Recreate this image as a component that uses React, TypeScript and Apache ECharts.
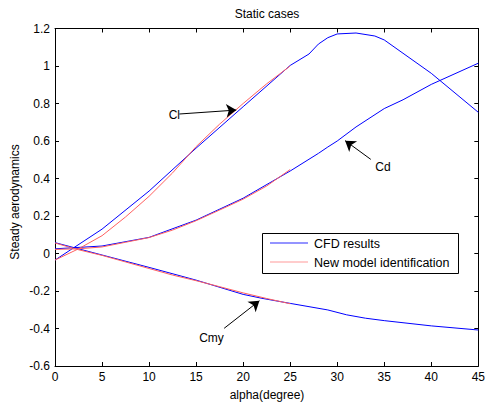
import React, { useEffect, useRef } from "react";
import * as echarts from "echarts";

const xTicks = [0, 5, 10, 15, 20, 25, 30, 35, 40, 45];

const clAlphaCFD = [0, 5, 10, 15, 20, 25, 27, 28, 29, 30, 32, 34, 35, 40, 45];
const clCFD = [-0.035, 0.13, 0.333, 0.562, 0.783, 1.003, 1.064, 1.117, 1.151, 1.171, 1.176, 1.16, 1.139, 0.961, 0.753];

const cdAlphaCFD = [0, 5, 10, 15, 20, 25, 28, 29, 30, 32, 35, 37, 40, 45];
const cdCFD = [0.025, 0.04, 0.086, 0.178, 0.295, 0.44, 0.534, 0.568, 0.6, 0.675, 0.773, 0.82, 0.902, 1.015];

const cmyAlphaCFD = [0, 5, 10, 15, 20, 22, 25, 29, 31, 33, 35, 40, 45];
const cmyCFD = [0.058, -0.008, -0.074, -0.142, -0.218, -0.239, -0.266, -0.301, -0.327, -0.345, -0.358, -0.386, -0.408];

const alphaModel = [0, 2.5, 5, 7.5, 10, 12.5, 15, 17.5, 20, 22.5, 25];
const clModel = [-0.035, 0.025, 0.095, 0.195, 0.305, 0.43, 0.57, 0.69, 0.8, 0.905, 1.0];
const cdModel = [0.022, 0.025, 0.035, 0.06, 0.085, 0.125, 0.175, 0.232, 0.29, 0.36, 0.448];
const cmyModel = [0.056, 0.02, -0.01, -0.045, -0.08, -0.115, -0.145, -0.177, -0.21, -0.24, -0.268];

const legendNames = ["CFD results", "New model identification"];

const arrows = [
  { from: [13.22, 0.744], to: [19.27, 0.765] },
  { from: [33.57, 0.502], to: [30.84, 0.602] },
  { from: [17.98, -0.399], to: [21.73, -0.252] },
];

const FONT = "Liberation Sans, Arial, sans-serif";
const BLUE = "#0000ff";
const RED = "#ff6060";
const LEGEND_BLUE = "#2a2aff";
const LEGEND_RED = "#ff9a9a";

const zip = (xs: number[], ys: number[]) => xs.map((x, i) => [x, ys[i]]);

export default function App() {
  const ref = useRef<HTMLDivElement>(null);
  useEffect(() => {
    if (!ref.current) return;
    const chart = echarts.init(ref.current, undefined, { renderer: "svg" });
    const axisCommon = {
      axisLine: { show: true, onZero: false, lineStyle: { color: "#000", width: 1 } },
      axisTick: { show: true, inside: true, length: 4, lineStyle: { color: "#000" } },
      splitLine: { show: false },
    };
    const lineSeries = (name: string, data: number[][], color: string, extra: any = {}) => ({
      type: "line",
      name,
      data,
      symbol: "none",
      showSymbol: false,
      lineStyle: { color, width: 1 },
      itemStyle: { color },
      silent: true,
      z: 2,
      ...extra,
    });
    const legendColors = [LEGEND_BLUE, LEGEND_RED];
    const legendGraphics: any[] = [
      {
        type: "rect",
        shape: { x: 262.5, y: 233.5, width: 196, height: 40 },
        style: { fill: "#fff", stroke: "#000", lineWidth: 1 },
        z: 100,
      },
    ];
    legendNames.forEach((name, i) => {
      const cy = 243 + i * 19;
      legendGraphics.push({
        type: "line",
        shape: { x1: 270, y1: cy, x2: 308, y2: cy },
        style: { stroke: legendColors[i], lineWidth: 1.2 },
        z: 101,
      });
      legendGraphics.push({
        type: "text",
        x: 314,
        y: cy + 0.5,
        style: { text: name, fill: "#000", font: `12.5px ${FONT}`, align: "left", verticalAlign: "middle" },
        z: 101,
      });
    });
    chart.setOption({
      animation: false,
      grid: { left: 55, right: 5, top: 28.5, bottom: 39, containLabel: false },
      xAxis: [
        {
          type: "value",
          min: 0,
          max: 45,
          interval: 5,
          position: "bottom",
          ...axisCommon,
          axisLabel: { color: "#000", fontSize: 12, fontFamily: FONT, margin: 5 },
        },
        {
          type: "value",
          min: 0,
          max: 45,
          interval: 5,
          position: "top",
          ...axisCommon,
          axisLabel: { show: false },
        },
      ],
      yAxis: [
        {
          type: "value",
          min: -0.6,
          max: 1.2,
          interval: 0.2,
          position: "left",
          ...axisCommon,
          axisLabel: {
            color: "#000",
            fontSize: 12,
            fontFamily: FONT,
            margin: 5,
            formatter: (v: number) => String(Math.round(v * 10) / 10),
          },
        },
        {
          type: "value",
          min: -0.6,
          max: 1.2,
          interval: 0.2,
          position: "right",
          ...axisCommon,
          axisLabel: { show: false },
        },
      ],
      graphic: [
        {
          type: "text",
          x: 267,
          y: 14,
          style: { text: "Static cases", fill: "#000", font: `12px ${FONT}`, align: "center", verticalAlign: "middle" },
        },
        {
          type: "text",
          x: 267,
          y: 395,
          style: { text: "alpha(degree)", fill: "#000", font: `12px ${FONT}`, align: "center", verticalAlign: "middle" },
        },
        {
          type: "text",
          x: 15,
          y: 202,
          rotation: Math.PI / 2,
          style: { text: "Steady aerodynamics", fill: "#000", font: `12px ${FONT}`, align: "center", verticalAlign: "middle" },
        },
        {
          type: "text",
          x: 180,
          y: 115,
          style: { text: "Cl", fill: "#000", font: `12px ${FONT}`, align: "right", verticalAlign: "middle" },
        },
        {
          type: "text",
          x: 383,
          y: 167,
          style: { text: "Cd", fill: "#000", font: `12px ${FONT}`, align: "center", verticalAlign: "middle" },
        },
        {
          type: "text",
          x: 211.5,
          y: 338,
          style: { text: "Cmy", fill: "#000", font: `12px ${FONT}`, align: "center", verticalAlign: "middle" },
        },
        ...legendGraphics,
      ],
      series: [
        lineSeries("CFD results", zip(clAlphaCFD, clCFD), BLUE, {
          markLine: {
            silent: true,
            symbol: ["none", "arrow"],
            symbolSize: 10,
            label: { show: false },
            lineStyle: { color: "#000", width: 1, type: "solid" },
            emphasis: { disabled: true },
            data: arrows.map((a) => [{ coord: a.from }, { coord: a.to }]),
          },
        }),
        lineSeries("CFD results", zip(cdAlphaCFD, cdCFD), BLUE),
        lineSeries("CFD results", zip(cmyAlphaCFD, cmyCFD), BLUE),
        lineSeries("New model identification", zip(alphaModel, clModel), RED),
        lineSeries("New model identification", zip(alphaModel, cdModel), RED),
        lineSeries("New model identification", zip(alphaModel, cmyModel), RED),
      ],
    });
    return () => chart.dispose();
  }, []);
  return <div ref={ref} style={{ width: 488, height: 405, position: "absolute", left: 0, top: 0 }} />;
}
